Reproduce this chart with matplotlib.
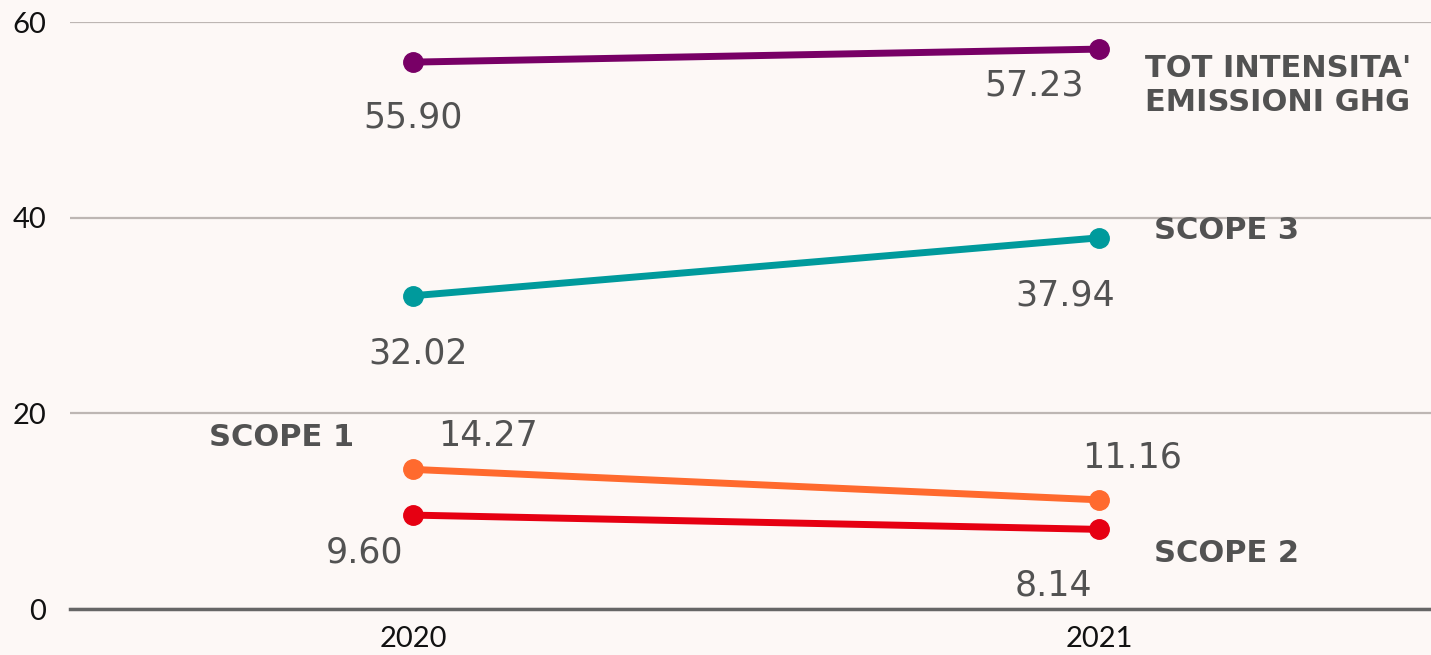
import matplotlib
matplotlib.use("Agg")
import matplotlib.pyplot as plt

# data
years = ["2020", "2021"]
series_names = ["TOT INTENSITA'\nEMISSIONI GHG", "SCOPE 3", "SCOPE 1", "SCOPE 2"]
tot = [55.90, 57.23]
scope3 = [32.02, 37.94]
scope1 = [14.27, 11.16]
scope2 = [9.60, 8.14]
y_ticks = [0, 20, 40, 60]

colors = ["#780066", "#009a9c", "#ff6a2e", "#e60012"]
bg = "#fdf8f6"
text_grey = "#525252"

plt.rcParams["font.family"] = ["Lato", "DejaVu Sans"]

fig = plt.figure(figsize=(14.31, 6.55), dpi=100, facecolor=bg)
ax = fig.add_axes([0.0489, 0.0702, 0.9511, 0.8962], facecolor=bg)

x = range(len(years))
all_series = [tot, scope3, scope1, scope2]
for vals, c in zip(all_series, colors):
    ax.plot(x, vals, color=c, lw=5, marker="o", ms=14, solid_capstyle="round", zorder=3)

# value labels: (series, point index, dx px, dy px)
offsets = [
    (0, 0, 0, -55), (0, 1, -65, -36),
    (1, 0, 5, -58), (1, 1, -34, -58),
    (2, 0, 75, 33), (2, 1, 33, 42),
    (3, 0, -48, -37), (3, 1, -46, -56),
]
for si, pi, dx, dy in offsets:
    v = all_series[si][pi]
    ax.annotate(f"{v:.2f}", (pi, v), xytext=(dx * 0.72, dy * 0.72), textcoords="offset points",
                ha="center", va="center", fontsize=25, color=text_grey,
                family="DejaVu Sans")

# series name labels, offsets in px from the point they belong to
name_pos = [
    (0, 1, 46, -36),
    (1, 1, 55, 7),
    (2, 0, -204, 32),
    (3, 1, 55, -24),
]
for (si, pi, dx, dy), name in zip(name_pos, series_names):
    v = all_series[si][pi]
    ax.annotate(name, (pi, v), xytext=(dx * 0.72, dy * 0.72), textcoords="offset points",
                ha="left", va="center", fontsize=22, fontweight="bold",
                color=text_grey, linespacing=1.22, family="DejaVu Sans")

ax.set_xlim(-0.5, 1.484)
ax.set_ylim(0, 60)
ax.set_yticks(y_ticks)
ax.set_xticks(list(x))
ax.set_xticklabels(years)
ax.tick_params(axis="both", length=0, labelsize=21, colors="#111111")
ax.tick_params(axis="y", pad=17)
ax.tick_params(axis="x", pad=12)
ax.grid(axis="y", color="#bdb6b3", lw=1.6)
ax.set_axisbelow(True)
for s in ["top", "right", "left"]:
    ax.spines[s].set_visible(False)
ax.spines["bottom"].set_color("#666666")
ax.spines["bottom"].set_linewidth(2.5)
ax.spines["bottom"].set_zorder(4)

fig.savefig("out.png", dpi=100, facecolor=bg)
